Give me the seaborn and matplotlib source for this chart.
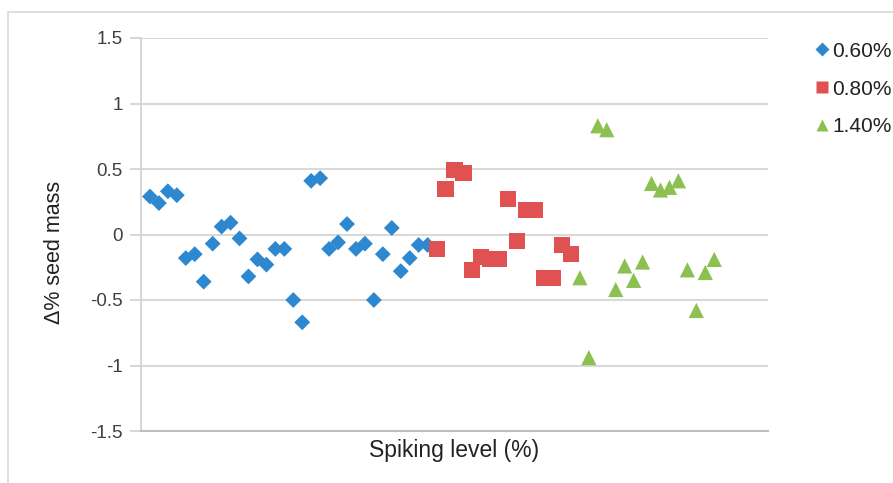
import numpy as np
import pandas as pd
import matplotlib
matplotlib.use("Agg")
import matplotlib.pyplot as plt
import seaborn as sns
from matplotlib.lines import Line2D

series_labels = ["0.60%", "0.80%", "1.40%"]
vals_060 = [0.29, 0.24, 0.33, 0.30, -0.18, -0.15, -0.36, -0.07, 0.06, 0.09, -0.03,
            -0.32, -0.19, -0.23, -0.11, -0.11, -0.50, -0.67, 0.41, 0.43, -0.11, -0.06,
            0.08, -0.11, -0.07, -0.50, -0.15, 0.05, -0.28, -0.18, -0.08, -0.08]
vals_080 = [-0.11, 0.35, 0.49, 0.47, -0.27, -0.17, -0.19, -0.19, 0.27, -0.05, 0.19,
            0.19, -0.33, -0.33, -0.08, -0.15]
vals_140 = [-0.33, -0.94, 0.83, 0.80, -0.42, -0.24, -0.35, -0.21, 0.39, 0.34, 0.36,
            0.41, -0.27, -0.58, -0.29, -0.19]
y_ticks = [-1.5, -1, -0.5, 0, 0.5, 1, 1.5]
y_tick_labels = ["-1.5", "-1", "-0.5", "0", "0.5", "1", "1.5"]

all_vals = vals_060 + vals_080 + vals_140
groups = ([series_labels[0]] * len(vals_060) + [series_labels[1]] * len(vals_080)
          + [series_labels[2]] * len(vals_140))
df = pd.DataFrame({"idx": np.arange(1, len(all_vals) + 1), "val": all_vals, "grp": groups})

sns.set_style("white")
plt.rcParams["font.family"] = ["Liberation Sans", "DejaVu Sans"]

colors = {"0.60%": "#2E88CF", "0.80%": "#E05252", "1.40%": "#8CC152"}
markers = {"0.60%": "D", "0.80%": "s", "1.40%": "^"}
sizes = {"0.60%": 65, "0.80%": 135, "1.40%": 120}

fig = plt.figure(figsize=(8.93, 4.83), dpi=100)
ax = fig.add_axes([141 / 893, 1 - 431 / 483, (768 - 141) / 893, (431 - 38) / 483])

for g in series_labels:
    sub = df[df["grp"] == g]
    sns.scatterplot(data=sub, x="idx", y="val", color=colors[g], marker=markers[g],
                    s=sizes[g], edgecolor="none", ax=ax, zorder=3, legend=False)

ax.set_xlim(0, 70)
ax.set_ylim(-1.5, 1.5)
ax.set_yticks(y_ticks)
ax.set_yticklabels(y_tick_labels)
ax.set_xticks([])
ax.yaxis.grid(True, color="#D9D9D9", linewidth=1.5)
ax.set_axisbelow(True)
for s in ["top", "right"]:
    ax.spines[s].set_visible(False)
ax.spines["left"].set_color("#D0D0D0")
ax.spines["left"].set_linewidth(1.2)
ax.spines["bottom"].set_color("#BFBFBF")
ax.spines["bottom"].set_linewidth(1.5)
ax.tick_params(axis="y", which="both", left=True, length=8, width=1.2, color="#D0D0D0",
               labelsize=13.5, labelcolor="#404040", pad=5)
ax.set_xlabel("Spiking level (%)", fontsize=16.5, color="#222222")
ax.set_ylabel("Δ% seed mass", fontsize=15.5, color="#222222")
ax_w = 768 - 141
ax_h = 431 - 38
ax.yaxis.set_label_coords((55 - 141) / ax_w, (431 - 252) / ax_h)
ax.xaxis.set_label_coords((454 - 141) / ax_w, (431 - 450) / ax_h)
ax.xaxis.label.set_verticalalignment("center")
ax.yaxis.label.set_verticalalignment("center")

handles = [Line2D([0], [0], marker=markers[g], color="none", markerfacecolor=colors[g],
                  markeredgecolor="none", markersize=9 if g != "0.60%" else 7)
           for g in series_labels]
fig.legend(handles, series_labels, loc="upper left", bbox_to_anchor=(797 / 893, 1 - 23 / 483),
           frameon=False, fontsize=15, handlelength=0.6, handletextpad=0.2,
           labelspacing=0.9, labelcolor="#222222")

fig.add_artist(Line2D([8 / 893, 8 / 893], [0, 1 - 12 / 483], transform=fig.transFigure,
                      color="#D9D9D9", linewidth=1.2))
fig.add_artist(Line2D([8 / 893, 1], [1 - 12 / 483, 1 - 12 / 483], transform=fig.transFigure,
                      color="#D9D9D9", linewidth=1.2))

fig.savefig("out.png", dpi=100, facecolor="white")
